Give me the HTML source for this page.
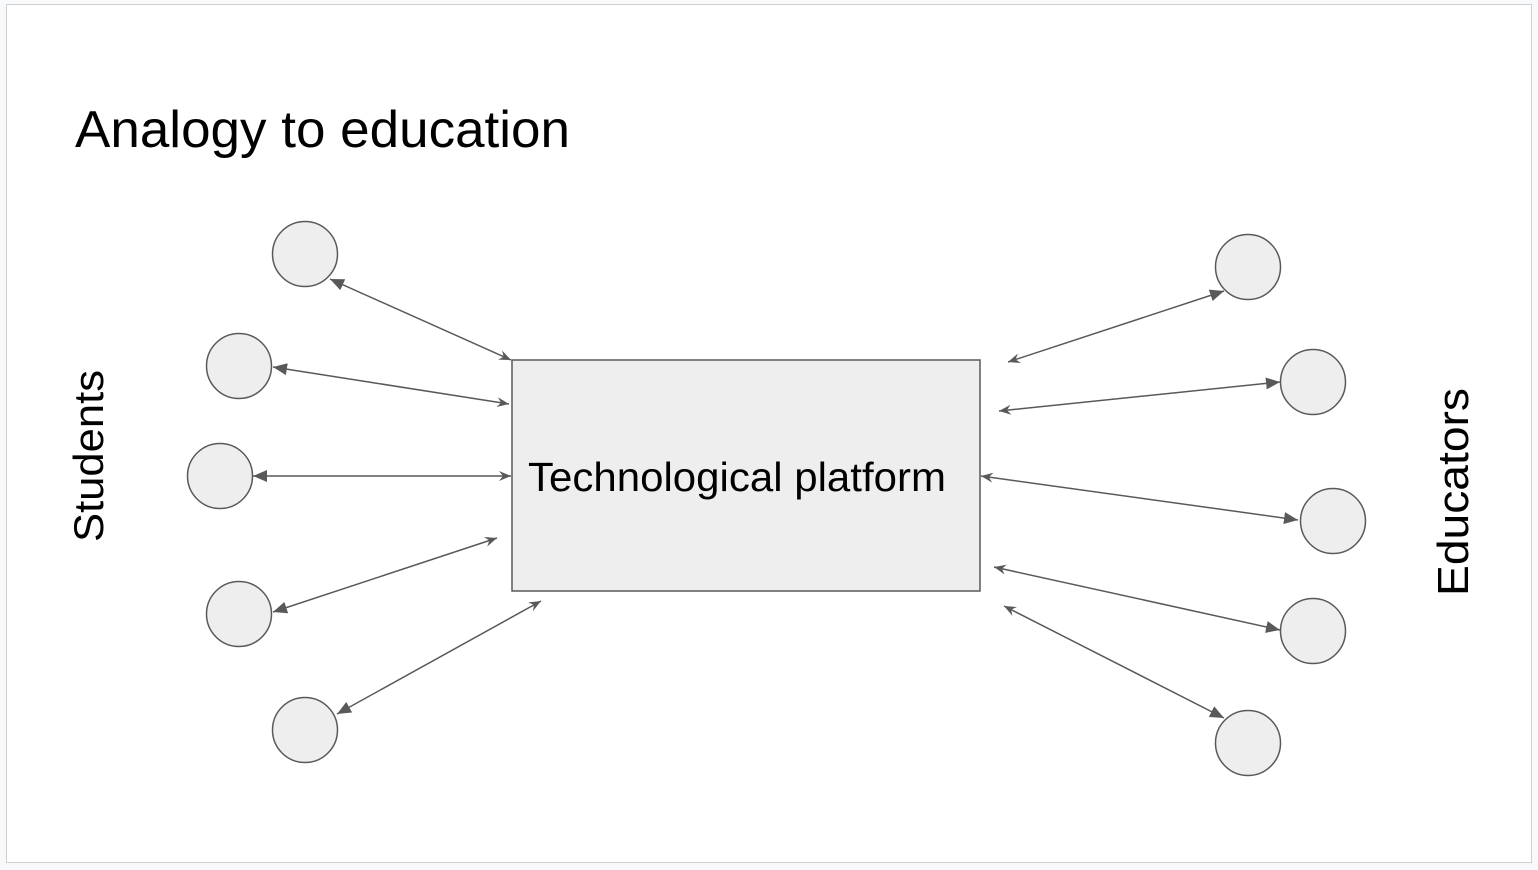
<!DOCTYPE html>
<html><head><meta charset="utf-8"><style>
html,body{margin:0;padding:0;background:#f8f9fa;}
svg{display:block;}
</style></head><body>
<svg width="1538" height="870" viewBox="0 0 1538 870" xmlns="http://www.w3.org/2000/svg">
<defs>
<marker id="fill" markerUnits="userSpaceOnUse" markerWidth="16" markerHeight="12" refX="14" refY="6" orient="auto-start-reverse">
<path d="M0,0 L14,6 L0,12 z" fill="#595959"/></marker>
<marker id="open" markerUnits="userSpaceOnUse" markerWidth="14" markerHeight="10" refX="12" refY="5" orient="auto">
<path d="M0,0 L12,5 L0,10 L4,5 z" fill="#595959"/></marker>
</defs>
<rect x="6.5" y="4.5" width="1525" height="858" fill="#fff" stroke="#d0d0d0" stroke-width="1"/>
<text x="75" y="147" font-family="Liberation Sans, sans-serif" font-size="52" textLength="495" lengthAdjust="spacingAndGlyphs" fill="#000">Analogy to education</text>
<text transform="translate(103,456) rotate(-90)" text-anchor="middle" font-family="Liberation Sans, sans-serif" font-size="42" textLength="172" lengthAdjust="spacingAndGlyphs" fill="#000">Students</text>
<text transform="translate(1468,492) rotate(-90)" text-anchor="middle" font-family="Liberation Sans, sans-serif" font-size="44" textLength="208" lengthAdjust="spacingAndGlyphs" fill="#000">Educators</text>
<rect x="512" y="360" width="468" height="231" fill="#eeeeee" stroke="#595959" stroke-width="1.5"/>
<text x="528" y="491" font-family="Liberation Sans, sans-serif" font-size="41" textLength="418" lengthAdjust="spacingAndGlyphs" fill="#000">Technological platform</text>
<g fill="#eeeeee" stroke="#595959" stroke-width="1.5">
<circle cx="305" cy="254" r="32.5"/><circle cx="239" cy="366" r="32.5"/><circle cx="220" cy="476" r="32.5"/><circle cx="239" cy="614" r="32.5"/><circle cx="305" cy="730" r="32.5"/>
<circle cx="1248" cy="267" r="32.5"/><circle cx="1313" cy="382" r="32.5"/><circle cx="1333" cy="521" r="32.5"/><circle cx="1313" cy="631" r="32.5"/><circle cx="1248" cy="743" r="32.5"/>
</g>
<g stroke="#595959" stroke-width="1.5" fill="none" marker-start="url(#fill)" marker-end="url(#open)">
<line x1="330" y1="279" x2="511" y2="360"/>
<line x1="273" y1="367" x2="509" y2="404"/>
<line x1="253" y1="476" x2="511" y2="476"/>
<line x1="273" y1="612" x2="497" y2="538"/>
<line x1="337" y1="714" x2="541" y2="601"/>
<line x1="1224" y1="291" x2="1008" y2="362"/>
<line x1="1280" y1="382" x2="999" y2="411"/>
<line x1="1298" y1="520" x2="981" y2="476"/>
<line x1="1280" y1="630" x2="994" y2="567"/>
<line x1="1224" y1="718" x2="1004" y2="606"/>
</g>
</svg>
</body></html>
